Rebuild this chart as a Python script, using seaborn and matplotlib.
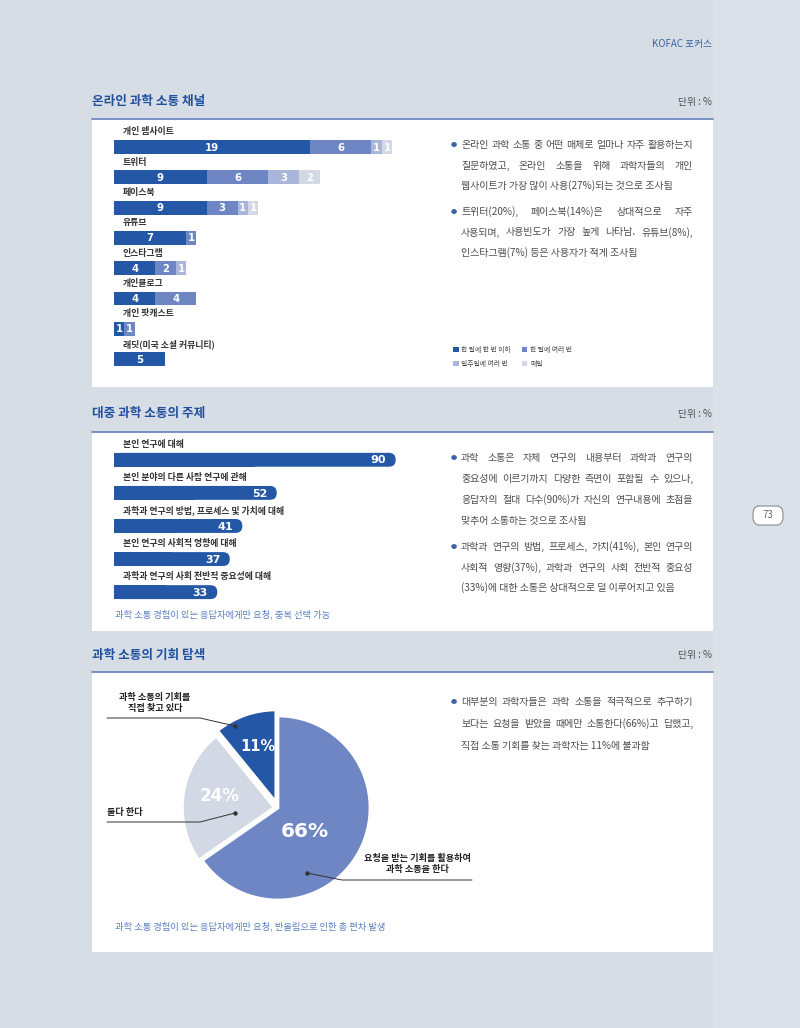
import numpy as np
import pandas as pd
import matplotlib
matplotlib.use("Agg")
import matplotlib.pyplot as plt
import seaborn as sns
from matplotlib.patches import Rectangle, FancyBboxPatch, Patch
from matplotlib.lines import Line2D

# ---------------- data ----------------
channels = ["개인 웹사이트", "트위터", "페이스북", "유튜브", "인스타그램",
            "개인블로그", "개인 팟캐스트", "래딧(미국 소셜 커뮤니티)"]
freq_labels = ["한 달에 한 번 이하", "한 달에 여러 번", "일주일에 여러 번", "매일"]
monthly_or_less = [19, 9, 9, 7, 4, 4, 1, 5]
monthly_several = [6, 6, 3, 1, 2, 4, 1, 0]
weekly_several = [1, 3, 1, 0, 1, 0, 0, 0]
daily = [1, 2, 1, 0, 0, 0, 0, 0]

topics = ["본인 연구에 대해", "본인 분야의 다른 사람 연구에 관해",
          "과학과 연구의 방법, 프로세스 및 가치에 대해",
          "본인 연구의 사회적 영향에 대해", "과학과 연구의 사회 전반적 중요성에 대해"]
topic_values = [90, 52, 41, 37, 33]

pie_labels = ["요청을 받는 기회를 활용하여\n과학 소통을 한다", "둘다 한다",
              "과학 소통의 기회를\n직접 찾고 있다"]
pie_values = [66, 24, 11]

# ---------------- style ----------------
sns.set_theme(style="white")
plt.rcParams["font.family"] = ["Noto Sans CJK KR", "DejaVu Sans"]

W, H = 800, 1028
fig = plt.figure(figsize=(W / 100, H / 100), dpi=100)
fig.patch.set_facecolor("#d6dde5")

def fx(x): return x / W
def fy(y): return 1 - y / H

DARK = "#2457a6"
MED = "#6e86c4"
LIGHT = "#a9b6da"
PALE = "#d3d8e5"
TITLE_C = "#1f4f9e"
TEXT_C = "#4d4d4d"
NOTE_C = "#5b80c0"
LABEL_C = "#333333"

# right margin band
fig.add_artist(Rectangle((fx(713), 0), fx(800) - fx(713), 1, transform=fig.transFigure,
                         facecolor="#dbe1e8", edgecolor="none", zorder=-2))

# panels
for top, bottom in [(119, 387), (432, 631), (672, 952)]:
    fig.add_artist(Rectangle((fx(92), fy(bottom)), fx(713) - fx(92), fy(top) - fy(bottom),
                             transform=fig.transFigure, facecolor="white",
                             edgecolor="none", zorder=-1))
    fig.add_artist(Line2D([fx(92), fx(713)], [fy(top), fy(top)], transform=fig.transFigure,
                          color="#7088bf", lw=1.3, zorder=1))

titles = [("온라인 과학 소통 채널", 102), ("대중 과학 소통의 주제", 414), ("과학 소통의 기회 탐색", 655)]
for t, y in titles:
    fig.text(fx(92), fy(y), t, fontsize=9.1, fontweight="bold", color=TITLE_C, va="center")
    fig.text(fx(712), fy(y), "단위 : %", fontsize=7, color=TEXT_C, va="center", ha="right")

fig.text(fx(712), fy(44), "KOFAC 포커스", fontsize=7, color="#3a64a8", va="center", ha="right")

# page number
fig.add_artist(FancyBboxPatch((fx(753), fy(525)), fx(783) - fx(753), fy(506) - fy(525),
                              boxstyle="round,pad=0,rounding_size=0.008",
                              transform=fig.transFigure, facecolor="white",
                              edgecolor="#8c8c8c", lw=0.8, zorder=1))
fig.text(fx(768), fy(515.5), "73", fontsize=7, color="#666666", ha="center", va="center")

# ---------------- chart 1: stacked bars ----------------
ax1 = fig.add_axes([fx(114), fy(380.3), 309 / W, 260.6 / H])
ax1.set_facecolor("none")
series = [monthly_or_less, monthly_several, weekly_several, daily]
colors = [DARK, MED, LIGHT, PALE]
layers = np.cumsum(np.array(series), axis=0)
for k in range(3, -1, -1):
    sns.barplot(x=layers[k], y=channels, orient="h", color=colors[k], width=0.46,
                saturation=1, linewidth=0, ax=ax1)
ax1.set_xlim(0, 30)
ax1.set_ylim(7.7, -0.9)
ax1.set_axis_off()
for i, name in enumerate(channels):
    ax1.text(0.87, i - 0.5, name, fontsize=6.4, fontweight="bold", color=LABEL_C,
             va="center", ha="left")
    for k in range(4):
        v = series[k][i]
        if v > 0:
            ax1.text(layers[k][i] - v / 2, i + 0.02, str(v), fontsize=7.3, fontweight="bold",
                     color="white", ha="center", va="center", family="DejaVu Sans")

handles = [Patch(facecolor=c, edgecolor="none") for c in colors]
order = [0, 2, 1, 3]
fig.legend([handles[o] for o in order], [freq_labels[o] for o in order], ncol=2,
           loc="upper left", bbox_to_anchor=(fx(447), fy(340)), frameon=False,
           fontsize=4.9, handlelength=0.8, handleheight=0.8, handletextpad=0.4,
           columnspacing=1.6, labelspacing=0.8, labelcolor="#444444")

# ---------------- chart 2: topics ----------------
ax2 = fig.add_axes([fx(114), fy(612), 313 / W, 182 / H])
ax2.set_facecolor("none")
sns.barplot(x=topic_values, y=topics, orient="h", color=DARK, width=0.42,
            saturation=1, linewidth=0, ax=ax2)
ax2.set_xlim(0, 100)
ax2.set_ylim(4.6, -0.9)
ax2.set_axis_off()
px_x = 313 / 100.0
px_y = 182 / 5.5
aspect = px_x / px_y
for p in list(ax2.patches):
    x0, y0, w, h = p.get_x(), p.get_y(), p.get_width(), p.get_height()
    r = abs(h) / aspect / 2 * 0.98
    rb = FancyBboxPatch((x0, min(y0, y0 + h)), w, abs(h),
                        boxstyle=f"round,pad=0,rounding_size={r}",
                        mutation_aspect=aspect, facecolor=DARK, edgecolor="none")
    ax2.add_patch(rb)
    p.set_width(w * 0.5)
for i, (name, v) in enumerate(zip(topics, topic_values)):
    ax2.text(2.9, i - 0.47, name, fontsize=6.4, fontweight="bold", color=LABEL_C,
             va="center", ha="left")
    ax2.text(v - 3.0, i + 0.02, str(v), fontsize=8, fontweight="bold", color="white",
             ha="right", va="center", family="DejaVu Sans")

fig.text(fx(115), fy(614), "과학 소통 경험이 있는 응답자에게만 요청, 중복 선택 가능",
         fontsize=6.7, color=NOTE_C, va="center")

# ---------------- chart 3: pie ----------------
cx, cy, R = 278, 808, 92
ax3 = fig.add_axes([fx(cx - 1.25 * R), fy(cy + 1.25 * R), 2.5 * R / W, 2.5 * R / H])
wedges, _ = ax3.pie(pie_values, colors=[MED, PALE, DARK], startangle=90, counterclock=False,
                    explode=[0, 0.04, 0.07],
                    wedgeprops=dict(edgecolor="white", linewidth=2))
ax3.set_xlim(-1.25, 1.25)
ax3.set_ylim(-1.25, 1.25)
pct_pos = [(0.29, -0.26, 14.5), (-0.63, 0.13, 12), (-0.22, 0.67, 10.5)]
for v, (px, py, s) in zip(pie_values, pct_pos):
    ax3.text(px, py, f"{v}%", fontsize=s, fontweight="bold", color="white",
             ha="center", va="center", family="DejaVu Sans")

def leader(xs, ys):
    fig.add_artist(Line2D([fx(x) for x in xs], [fy(y) for y in ys], transform=fig.transFigure,
                          color="#333333", lw=0.7, zorder=4))
    fig.add_artist(Line2D([fx(xs[-1])], [fy(ys[-1])], transform=fig.transFigure,
                          marker="o", ms=2.2, color="#333333", lw=0, zorder=4))

fig.text(fx(155), fy(703), pie_labels[2], fontsize=6.6, color="#222222", ha="center",
         va="center", linespacing=1.3, fontweight="bold")
leader([107, 200, 235], [718, 718, 726])
fig.text(fx(107), fy(812), pie_labels[1], fontsize=6.6, color="#222222", ha="left",
         va="center", fontweight="bold")
leader([107, 200, 235], [822, 822, 813])
fig.text(fx(417), fy(864), pie_labels[0], fontsize=6.6, color="#222222", ha="center",
         va="center", linespacing=1.3, fontweight="bold")
leader([472, 342, 307], [880, 880, 873])

fig.text(fx(115), fy(926), "과학 소통 경험이 있는 응답자에게만 요청, 반올림으로 인한 총 편차 발생",
         fontsize=6.7, color=NOTE_C, va="center")

# ---------------- justified paragraphs ----------------
renderer = fig.canvas.get_renderer()

def paragraph(lines, y0, dy, x0=461, x1=693, size=7.2):
    fig.text(fx(454), fy(y0), "●", fontsize=4.5, color="#3a64a8", ha="center", va="center")
    for j, line in enumerate(lines):
        y = y0 + j * dy
        words = line.split(" ")
        last = j == len(lines) - 1
        s = size
        # shrink if a line would not fit the column
        while True:
            probe = fig.text(0, 0, line, fontsize=s)
            wline = probe.get_window_extent(renderer).width
            probe.remove()
            if wline <= (x1 - x0) or s < 5:
                break
            s -= 0.1
        if last or len(words) < 2:
            fig.text(fx(x0), fy(y), line, fontsize=s, color=TEXT_C, va="center")
            continue
        texts = [fig.text(0, 0, w, fontsize=s, color=TEXT_C, va="center") for w in words]
        widths = [t.get_window_extent(renderer).width for t in texts]
        gap = (x1 - x0 - sum(widths)) / (len(words) - 1)
        x = x0
        for t, w in zip(texts, widths):
            t.set_position((fx(x), fy(y)))
            x += w + gap

paragraph(["온라인 과학 소통 중 어떤 매체로 얼마나 자주 활용하는지",
           "질문하였고, 온라인 소통을 위해 과학자들의 개인",
           "웹사이트가 가장 많이 사용(27%)되는 것으로 조사됨"], 145, 20.5)
paragraph(["트위터(20%), 페이스북(14%)은 상대적으로 자주",
           "사용되며, 사용빈도가 가장 높게 나타남. 유튜브(8%),",
           "인스타그램(7%) 등은 사용자가 적게 조사됨"], 212, 20.5)
paragraph(["과학 소통은 자체 연구의 내용부터 과학과 연구의",
           "중요성에 이르기까지 다양한 측면이 포함될 수 있으나,",
           "응답자의 절대 다수(90%)가 자신의 연구내용에 초점을",
           "맞추어 소통하는 것으로 조사됨"], 458, 21)
paragraph(["과학과 연구의 방법, 프로세스, 가치(41%), 본인 연구의",
           "사회적 영향(37%), 과학과 연구의 사회 전반적 중요성",
           "(33%)에 대한 소통은 상대적으로 덜 이루어지고 있음"], 547, 20.5)
paragraph(["대부분의 과학자들은 과학 소통을 적극적으로 추구하기",
           "보다는 요청을 받았을 때에만 소통한다(66%)고 답했고,",
           "직접 소통 기회를 찾는 과학자는 11%에 불과함"], 702, 22)

fig.savefig("out.png", dpi=100, facecolor=fig.get_facecolor())
